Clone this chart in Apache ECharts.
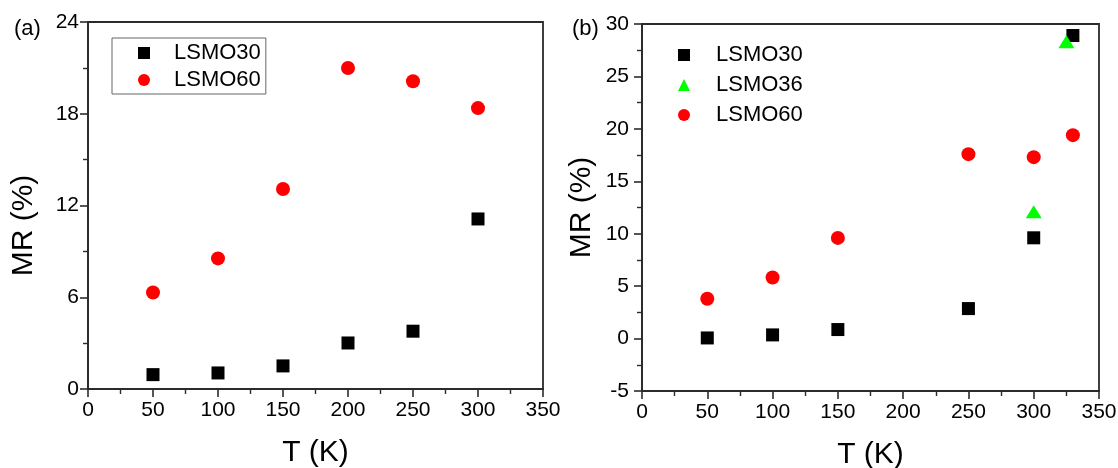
<!DOCTYPE html>
<html>
<head>
<meta charset="utf-8">
<script src="https://cdn.jsdelivr.net/npm/echarts@6/dist/echarts.min.js"></script>
<style>
  html, body { margin: 0; padding: 0; background: #fff; }
  #chart { width: 1118px; height: 468px; }
</style>
</head>
<body>
<div id="chart"></div>
<script>
// Panel (a): MR vs temperature
const tempA = [50, 100, 150, 200, 250, 300];
const mrA_LSMO30 = [0.94, 1.05, 1.51, 3.01, 3.78, 11.12];
const mrA_LSMO60 = [6.31, 8.54, 13.08, 20.99, 20.13, 18.37];

// Panel (b): MR vs temperature
const tempB_LSMO30 = [50, 100, 150, 250, 300, 330];
const mrB_LSMO30 = [0.06, 0.35, 0.86, 2.86, 9.61, 28.9];
const tempB_LSMO36 = [300, 325];
const mrB_LSMO36 = [12.1, 28.3];
const tempB_LSMO60 = [50, 100, 150, 250, 300, 330];
const mrB_LSMO60 = [3.8, 5.82, 9.6, 17.59, 17.3, 19.4];

const xTicks = [0, 50, 100, 150, 200, 250, 300, 350];
const yTicksA = [0, 6, 12, 18, 24];
const yTicksB = [-5, 0, 5, 10, 15, 20, 25, 30];

const xTitle = 'T (K)';
const yTitle = 'MR (%)';

const FONT = '"Liberation Sans", Arial, sans-serif';
const AXIS_COLOR = '#2b2b2b';

const pairs = (xs, ys) => xs.map((x, i) => [x, ys[i]]);

const axisCommon = {
  axisLine: { show: true, onZero: false, lineStyle: { color: AXIS_COLOR, width: 1.8 } },
  axisTick: { show: true, length: 8, lineStyle: { color: AXIS_COLOR, width: 1.6 } },
  minorTick: { show: true, splitNumber: 2, length: 5, lineStyle: { color: AXIS_COLOR, width: 1.4 } },
  splitLine: { show: false },
  minorSplitLine: { show: false }
};

function xAxisFor(gridIndex) {
  return Object.assign({}, axisCommon, {
    type: 'value', gridIndex,
    min: xTicks[0], max: xTicks[xTicks.length - 1], interval: xTicks[1] - xTicks[0],
    name: xTitle, nameLocation: 'middle', nameGap: 49,
    nameTextStyle: { fontFamily: FONT, fontSize: 30, color: '#000' },
    axisLabel: { fontFamily: FONT, fontSize: 21, color: '#000', margin: 11 }
  });
}

function yAxisFor(gridIndex, ticks, nameGap, labelMargin, namePad) {
  return Object.assign({}, axisCommon, {
    type: 'value', gridIndex,
    min: ticks[0], max: ticks[ticks.length - 1], interval: ticks[1] - ticks[0],
    name: yTitle, nameLocation: 'middle', nameGap, nameRotate: 90,
    nameTextStyle: { fontFamily: FONT, fontSize: 30, color: '#000', padding: namePad },
    axisLabel: { fontFamily: FONT, fontSize: 21, color: '#000', margin: labelMargin }
  });
}

const legendText = { fontFamily: FONT, fontSize: 22, lineHeight: 22, color: '#000' };

const option = {
  backgroundColor: '#fff',
  animation: false,
  grid: [
    { left: 88, right: 575, top: 22, bottom: 79, outerBoundsMode: 'none', containLabel: false,
      show: true, borderColor: AXIS_COLOR, borderWidth: 1.8 },
    { left: 642, right: 19, top: 24, bottom: 77, outerBoundsMode: 'none', containLabel: false,
      show: true, borderColor: AXIS_COLOR, borderWidth: 1.8 }
  ],
  xAxis: [xAxisFor(0), xAxisFor(1)],
  yAxis: [
    yAxisFor(0, yTicksA, 49, 9, [0, 40, 0, 0]),
    yAxisFor(1, yTicksB, 45, 13, 0)
  ],
  legend: [
    {
      data: ['LSMO30', 'LSMO60'],
      orient: 'vertical', left: 112, top: 38,
      itemWidth: 12, itemHeight: 12, itemGap: 5,
      padding: [4, 5, 3, 26],
      borderColor: '#666', borderWidth: 1,
      textStyle: Object.assign({ padding: [0, 0, 0, 19] }, legendText),
      selectedMode: false
    },
    {
      data: ['LSMO30', 'LSMO36', 'LSMO60'],
      orient: 'vertical', left: 673, top: 39,
      itemWidth: 12, itemHeight: 12, itemGap: 8,
      padding: 5,
      textStyle: Object.assign({ padding: [0, 0, 0, 21] }, legendText),
      selectedMode: false
    }
  ],
  graphic: [
    { type: 'text', left: 14, top: 18, style: { text: '(a)', font: '22px ' + FONT, fill: '#000' } },
    { type: 'text', left: 572, top: 18, style: { text: '(b)', font: '22px ' + FONT, fill: '#000' } }
  ],
  series: [
    {
      name: 'LSMO30', type: 'scatter', xAxisIndex: 0, yAxisIndex: 0,
      symbol: 'rect', symbolSize: 13, itemStyle: { color: '#000', opacity: 1 },
      data: pairs(tempA, mrA_LSMO30)
    },
    {
      name: 'LSMO60', type: 'scatter', xAxisIndex: 0, yAxisIndex: 0,
      symbol: 'circle', symbolSize: 14, itemStyle: { color: '#ff0000', opacity: 1 },
      data: pairs(tempA, mrA_LSMO60)
    },
    {
      name: 'LSMO30', type: 'scatter', xAxisIndex: 1, yAxisIndex: 1,
      symbol: 'rect', symbolSize: 13, itemStyle: { color: '#000', opacity: 1 },
      data: pairs(tempB_LSMO30, mrB_LSMO30)
    },
    {
      name: 'LSMO36', type: 'scatter', xAxisIndex: 1, yAxisIndex: 1,
      symbol: 'triangle', symbolSize: [16, 13], itemStyle: { color: '#00ff00', opacity: 1 },
      data: pairs(tempB_LSMO36, mrB_LSMO36)
    },
    {
      name: 'LSMO60', type: 'scatter', xAxisIndex: 1, yAxisIndex: 1,
      symbol: 'circle', symbolSize: 14, itemStyle: { color: '#ff0000', opacity: 1 },
      data: pairs(tempB_LSMO60, mrB_LSMO60)
    }
  ]
};

const chart = echarts.init(document.getElementById('chart'), null, { renderer: 'canvas' });
chart.setOption(option);
</script>
</body>
</html>
